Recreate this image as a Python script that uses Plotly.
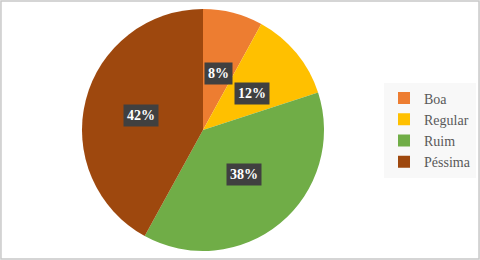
import math
import plotly.graph_objects as go

labels = ["Boa", "Regular", "Ruim", "Péssima"]
values = [8, 12, 38, 42]
colors = ["#ED7D31", "#FFC000", "#70AD47", "#9E480E"]

W, H = 480, 260
cx_px, cy_px, R = 203, 130, 121
lab_rx, lab_ry = 64, 58

fig = go.Figure()
fig.add_trace(go.Pie(
    labels=labels, values=values, sort=False, direction="clockwise", rotation=0,
    marker=dict(colors=colors, line=dict(width=0)),
    textinfo="none", hoverinfo="label+percent",
    domain=dict(x=[(cx_px - R) / W, (cx_px + R) / W], y=[(H - cy_px - R) / H, (H - cy_px + R) / H]),
))

total = sum(values)
cum = 0
annotations = []
for v in values:
    mid = (cum + v / 2) / total * 2 * math.pi
    cum += v
    x = (cx_px + lab_rx * math.sin(mid)) / W
    y = (H - cy_px + lab_ry * math.cos(mid)) / H
    annotations.append(dict(
        x=x, y=y, xref="paper", yref="paper", showarrow=False,
        xanchor="center", yanchor="middle",
        text="<b>%d%%</b>" % round(v / total * 100),
        font=dict(family="Liberation Serif", size=14, color="white"),
        bgcolor="#404040", borderpad=3,
    ))

fig.update_layout(
    width=W, height=H,
    margin=dict(l=0, r=0, t=0, b=0),
    paper_bgcolor="white",
    annotations=annotations,
    legend=dict(
        x=0.80, y=0.5, xanchor="left", yanchor="middle",
        font=dict(family="Liberation Serif", size=14, color="#595959"),
        bgcolor="#f8f8f8", tracegroupgap=0, itemwidth=30,
    ),
    shapes=[dict(type="rect", xref="paper", yref="paper", x0=0.002, x1=0.998, y0=0.004, y1=0.996,
                 line=dict(color="#c8c8c8", width=1.5))],
)

fig.write_html("out.html", config={"displayModeBar": False},
               post_script="document.body.style.margin='0';document.body.style.overflow='hidden';")
